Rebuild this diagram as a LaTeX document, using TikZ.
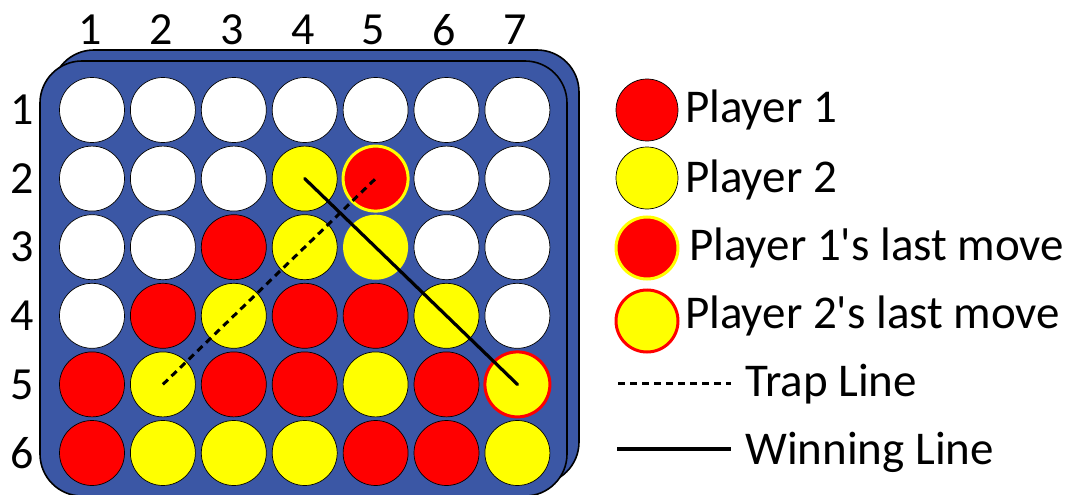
\documentclass[tikz,border=0pt]{standalone}
\usepackage{fontspec}
\setmainfont{Carlito}
\definecolor{boardblue}{RGB}{59,87,165}
\definecolor{pred}{RGB}{255,0,0}
\definecolor{pyel}{RGB}{255,255,0}
\begin{document}
\begin{tikzpicture}[x=1pt,y=-1pt,
  boardshape/.style={fill=boardblue,draw=black,line width=1.6pt,rounded corners=42pt},
  disc/.style={circle,draw=black,line width=0.7pt,minimum size=65pt,inner sep=0pt},
  ldisc/.style={circle,draw=black,line width=0.7pt,minimum size=62pt,inner sep=0pt},
  Wd/.style={fill=white},
  Rd/.style={fill=pred},
  Yd/.style={fill=pyel},
  Rl/.style={fill=pred,draw=pyel,line width=3pt},
  Yl/.style={fill=pyel,draw=pred,line width=3pt},
  Yn/.style={fill=pyel,draw=none},
  lbl/.style={font=\fontsize{46}{54}\selectfont,inner sep=0pt},
  legtext/.style={font=\fontsize{47}{56}\selectfont,anchor=west,inner sep=0pt},
  trapline/.style={line width=3pt,dash pattern=on 7pt off 5pt},
  winline/.style={line width=3.2pt}]
\useasboundingbox (0,0) rectangle (1069,495);
% board
\draw[boardshape] (52,50) rectangle (579,484);
\draw[boardshape] (40,61) rectangle (567,496);
% column labels
\foreach \c in {1,...,7}{
  \node[lbl] (col\c) at ({90+70.9*(\c-1)},30) {\c};
}
% row labels
\foreach \r in {1,...,6}{
  \node[lbl] (row\r) at (22,{110+68.6*(\r-1)}) {\r};
}
% discs
\foreach \r/\row in {1/{Wd,Wd,Wd,Wd,Wd,Wd,Wd},
                     2/{Wd,Wd,Wd,Yd,Rl,Wd,Wd},
                     3/{Wd,Wd,Rd,Yd,Yn,Wd,Wd},
                     4/{Wd,Rd,Yd,Rd,Rd,Yd,Wd},
                     5/{Rd,Yd,Rd,Rd,Yd,Rd,Yl},
                     6/{Rd,Yd,Yd,Yd,Rd,Rd,Yd}}{
  \foreach \st [count=\c] in \row {
    \node[disc,\st] (d-\r-\c) at ({92+70.9*(\c-1)},{110+68.6*(\r-1)}) {};
  }
}
% lines
\draw[trapline] (d-5-2.center) -- (d-2-5.center);
\draw[winline,line cap=round] (d-2-4.center) -- (d-5-7.center);
% legend
\node[ldisc,Rd] (lg1) at (647,110) {};
\node[legtext] (lt1) at (685,110) {Player 1};
\node[ldisc,Yd] (lg2) at (647,178) {};
\node[legtext] (lt2) at (685,180) {Player 2};
\node[ldisc,Rl] (lg3) at (647,248) {};
\node[legtext] (lt3) at (689,248) {Player 1\textquotesingle s last move};
\node[ldisc,Yl] (lg4) at (647,321) {};
\node[legtext] (lt4) at (685,316) {Player 2\textquotesingle s last move};
\coordinate (ta) at (618,383);
\coordinate (tb) at (731,383);
\draw[trapline] (ta) -- (tb);
\node[legtext] (lt5) at (745,384) {Trap Line};
\coordinate (wa) at (617,449);
\coordinate (wb) at (731,449);
\draw[winline] (wa) -- (wb);
\node[legtext] (lt6) at (745,452) {Winning Line};
\end{tikzpicture}
\end{document}
